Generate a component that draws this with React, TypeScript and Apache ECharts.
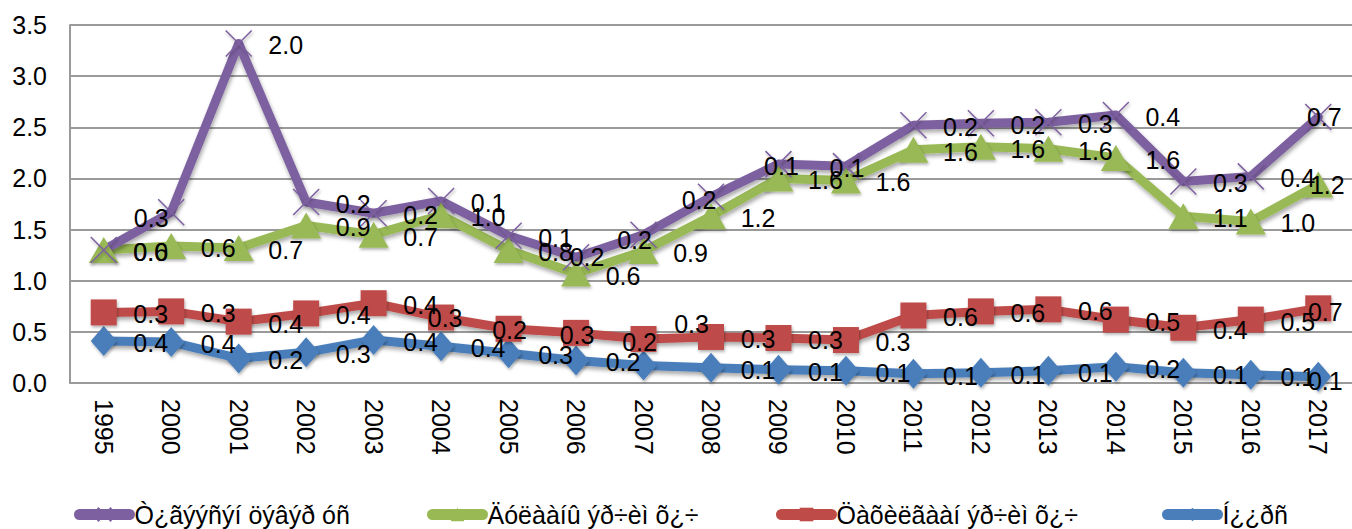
import React, { useEffect, useRef } from "react";
import * as echarts from "echarts";

const years = ["1995", "2000", "2001", "2002", "2003", "2004", "2005", "2006", "2007", "2008", "2009", "2010", "2011", "2012", "2013", "2014", "2015", "2016", "2017"];

const nameBlue = "Í¿¿ðñ";
const nameRed = "Öàõèëãààí ýð÷èì õ¿÷";
const nameGreen = "Äóëààíû ýð÷èì õ¿÷";
const namePurple = "Ò¿ãýýñýí öýâýð óñ";

const blueValues = [0.41, 0.40, 0.24, 0.30, 0.42, 0.36, 0.29, 0.22, 0.17, 0.15, 0.13, 0.12, 0.09, 0.10, 0.12, 0.16, 0.10, 0.08, 0.06];
const redValues = [0.28, 0.30, 0.36, 0.38, 0.36, 0.28, 0.24, 0.27, 0.26, 0.30, 0.31, 0.30, 0.57, 0.60, 0.60, 0.46, 0.44, 0.54, 0.67];
const greenValues = [0.61, 0.64, 0.72, 0.86, 0.67, 1.00, 0.77, 0.58, 0.86, 1.18, 1.56, 1.56, 1.62, 1.61, 1.57, 1.58, 1.09, 0.96, 1.21];
const purpleValues = [0.00, 0.33, 2.00, 0.23, 0.21, 0.14, 0.14, 0.16, 0.16, 0.19, 0.14, 0.14, 0.24, 0.23, 0.26, 0.42, 0.34, 0.44, 0.66];

const yTicks = { min: 0, max: 3.5, interval: 0.5 };

// label placement (style only)
const defaultOffset = [47, 2];
const purpleOffsets: Record<number, number[]> = { 1: [-20, 6], 7: [11, 0], 8: [-9, 5], 9: [-12, 3], 10: [3, 2], 11: [1, 2], 18: [6, 0] };
const greenOffsets: Record<number, number[]> = { 18: [9, 0] };
const redOffsets: Record<number, number[]> = { 5: [4, 0], 6: [1, 1], 7: [1, 2], 8: [48, -15], 18: [7, 4] };
const blueOffsets: Record<number, number[]> = { 8: [-4, -24], 18: [7, 4] };

const FONT = "'Liberation Sans', Arial, sans-serif";
const FS = 25;

function makeSeries(name: string, values: number[], color: string, symbol: string, symbolSize: any, offsets: Record<number, number[]>, extraItem: any = {}) {
  return {
    name,
    type: "line",
    stack: "total",
    symbol,
    symbolSize,
    lineStyle: {
      color,
      width: 9,
      cap: "round",
      join: "round",
      shadowColor: "rgba(0,0,0,0.35)",
      shadowBlur: 4,
      shadowOffsetX: 1,
      shadowOffsetY: 3,
    },
    itemStyle: {
      color,
      shadowColor: "rgba(0,0,0,0.3)",
      shadowBlur: 3,
      shadowOffsetX: 1,
      shadowOffsetY: 2,
      ...extraItem,
    },
    label: {
      show: true,
      position: "inside",
      color: "#000",
      fontSize: FS,
      fontFamily: FONT,
      formatter: (p: any) => Number(p.value).toFixed(1),
    },
    emphasis: { disabled: true },
    data: values.map((v, i) => ({ value: v, label: { offset: offsets[i] ?? defaultOffset } })),
  };
}

export default function App() {
  const ref = useRef<HTMLDivElement>(null);
  useEffect(() => {
    if (!ref.current) return;
    const chart = echarts.init(ref.current, null, { renderer: "svg" });
    const legendBase = {
      top: 502,
      itemWidth: 50,
      itemHeight: 17,
      itemGap: 0,
      padding: 0,
      textStyle: { color: "#000", fontSize: FS, fontFamily: FONT },
      lineStyle: { width: 11, cap: "round", shadowBlur: 0, shadowColor: "transparent" },
      itemStyle: { shadowBlur: 0, shadowColor: "transparent" },
      selectedMode: false,
    };
    chart.setOption({
      animation: false,
      textStyle: { fontFamily: FONT },
      grid: { left: 70, top: 25, width: 1286, height: 358, containLabel: false },
      legend: [
        { ...legendBase, left: 74, data: [namePurple] },
        { ...legendBase, left: 427, data: [nameGreen] },
        { ...legendBase, left: 776, data: [nameRed] },
        { ...legendBase, left: 1162, data: [nameBlue] },
      ],
      xAxis: {
        type: "category",
        data: years,
        boundaryGap: true,
        axisLine: { show: true, lineStyle: { color: "#9a9a9a", width: 2 } },
        axisTick: { show: false },
        axisLabel: { rotate: -90, margin: 16, color: "#000", fontSize: FS, fontFamily: FONT },
      },
      yAxis: {
        type: "value",
        min: yTicks.min,
        max: yTicks.max,
        interval: yTicks.interval,
        axisLine: { show: true, lineStyle: { color: "#9a9a9a", width: 2 } },
        axisTick: { show: false },
        axisLabel: { margin: 23, color: "#000", fontSize: FS, fontFamily: FONT, formatter: (v: number) => v.toFixed(1) },
        splitLine: { show: true, lineStyle: { color: "#9a9a9a", width: 2 } },
      },
      series: [
        makeSeries(nameBlue, blueValues, "#4a7ebb", "diamond", [26, 30], blueOffsets),
        makeSeries(nameRed, redValues, "#be4b48", "rect", [26, 26], redOffsets),
        makeSeries(nameGreen, greenValues, "#98b954", "triangle", [30, 26], greenOffsets),
        makeSeries(namePurple, purpleValues, "#7d60a0", "path://M0 0L10 10M10 0L0 10", [26, 26], purpleOffsets, {
          borderColor: "#7d60a0",
          borderWidth: 1.5,
        }),
      ],
    });
    return () => chart.dispose();
  }, []);
  return <div ref={ref} style={{ position: "absolute", left: 0, top: 0, width: 1352, height: 529 }} />;
}
